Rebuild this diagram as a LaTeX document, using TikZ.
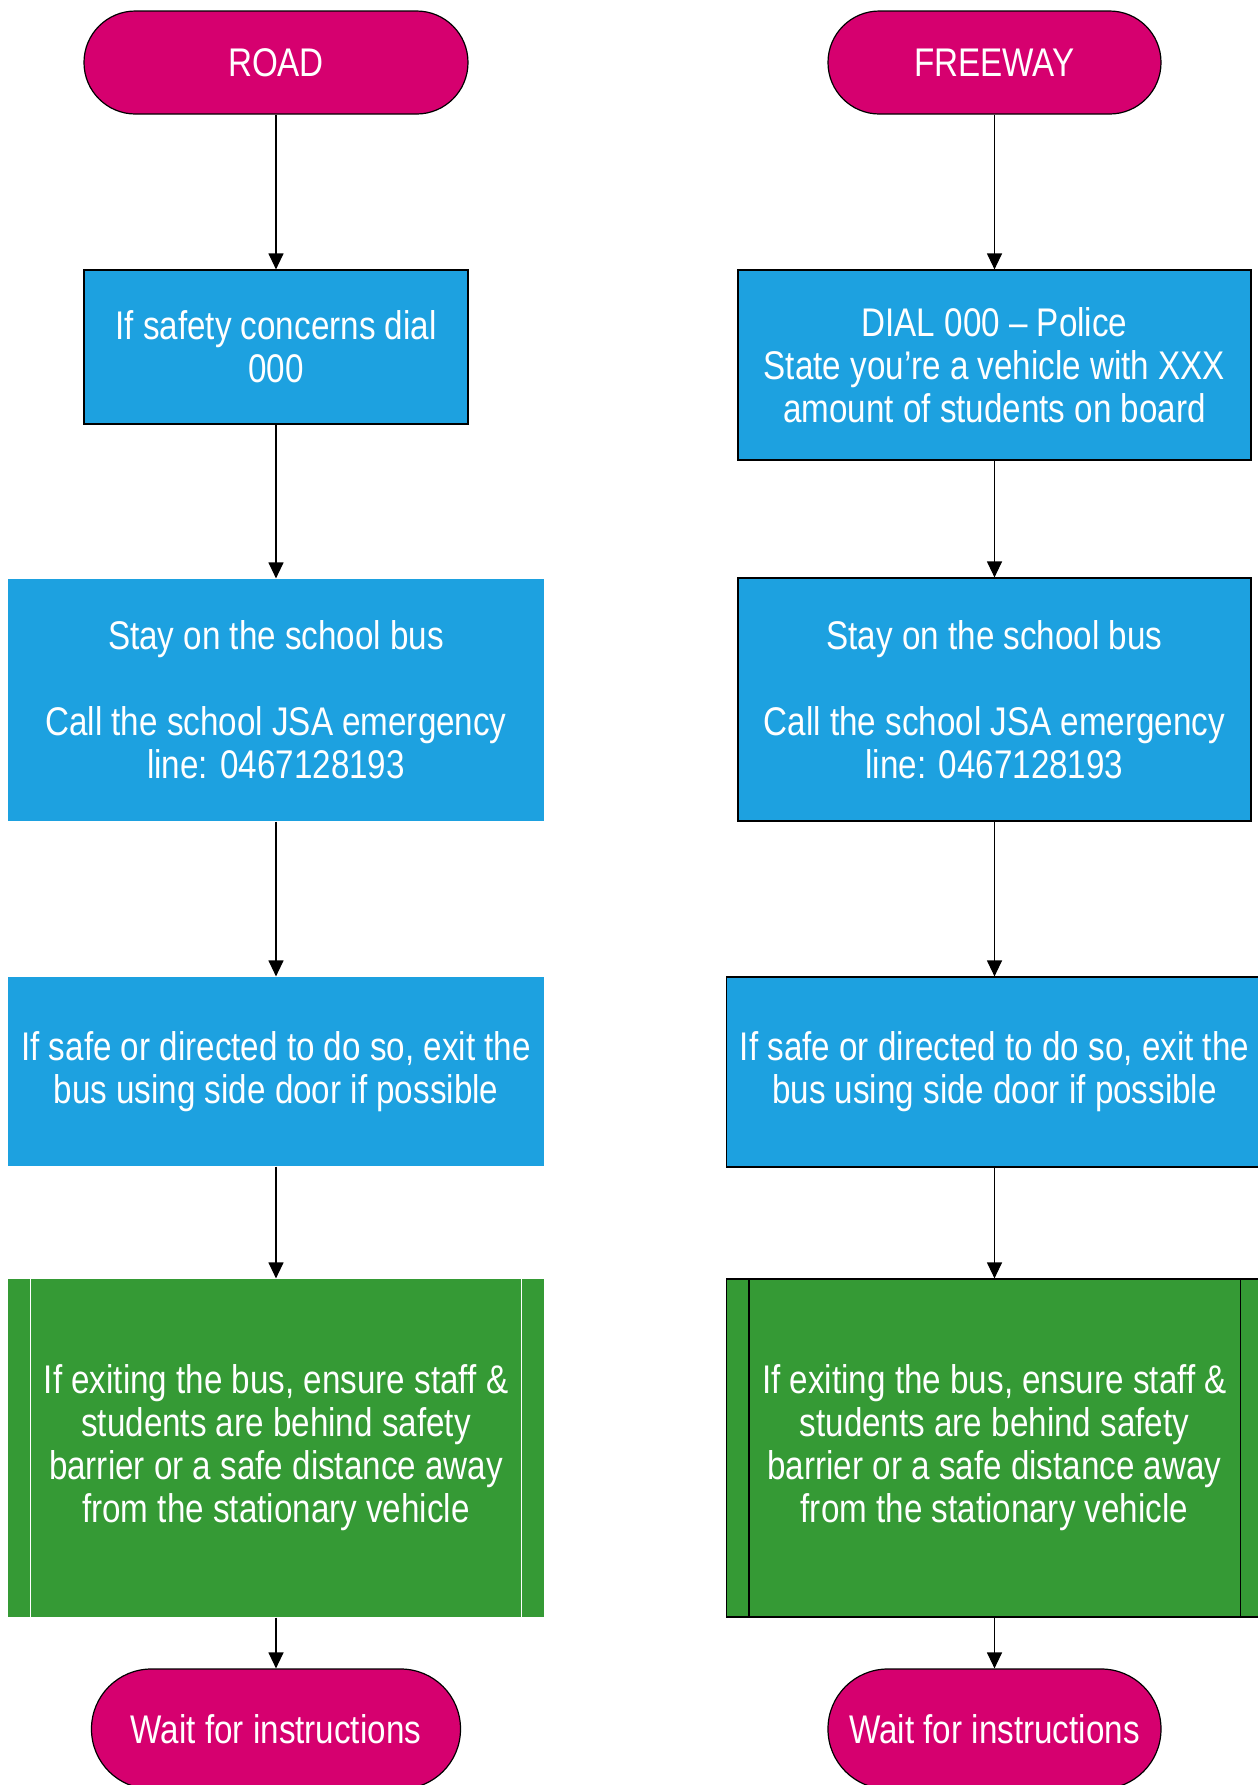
\documentclass[tikz,border=0pt]{standalone}
\usepackage{fontspec}
\setmainfont{Liberation Sans}[FakeStretch=0.83]
\usetikzlibrary{arrows.meta}
\definecolor{termpink}{RGB}{214,0,111}
\definecolor{stepblue}{RGB}{29,161,224}
\definecolor{subgreen}{RGB}{53,154,53}
\begin{document}
\begin{tikzpicture}[x=0.5pt,y=-0.5pt,
  every node/.style={text=white,align=center,inner sep=2pt,font=\fontsize{20}{21.5}\selectfont},
  term/.style={draw=black,fill=termpink,line width=0.6pt,minimum height=51.5pt,rounded corners=25.7pt},
  endterm/.style={term,minimum height=60pt,rounded corners=29.9pt},
  box/.style={fill=stepblue,line width=0.6pt},
  sub/.style={fill=subgreen,line width=0.6pt,minimum width=268pt,minimum height=169pt},
  arr/.style={-{Triangle[length=8pt,width=7.5pt]},line width=0.6pt}]
\useasboundingbox (0,0) rectangle (1258,1785);
% road column
\node[term,minimum width=192pt] (road) at (276,62.5) {ROAD};
\node[box,draw=black,minimum width=192pt,minimum height=77pt] (s1L) at (276,347) {If safety concerns dial\\000};
\node[box,minimum width=268pt,minimum height=121pt] (s2L) at (276,700) {Stay on the school bus\\~\\Call the school JSA emergency\\line: 0467128193};
\node[box,minimum width=268pt,minimum height=94.5pt] (s3L) at (276,1071.5) {If safe or directed to do so, exit the\\bus using side door if possible};
\node[sub] (gL) at (276,1448) {If exiting the bus, ensure staff \&\\students are behind safety\\barrier or a safe distance away\\from the stationary vehicle};
\draw[white,line width=0.6pt] ([xshift=11.5pt]gL.north west) -- ([xshift=11.5pt]gL.south west)
  ([xshift=-11.5pt]gL.north east) -- ([xshift=-11.5pt]gL.south east);
\node[endterm,minimum width=184.5pt] (wL) at (276,1729) {Wait for instructions};
% freeway column
\node[term,minimum width=166.5pt] (fwy) at (994.5,62.5) {FREEWAY};
\node[box,draw=black,minimum width=256.5pt,minimum height=95pt] (s1R) at (994.5,365) {DIAL 000 -- Police\\State you’re a vehicle with XXX\\amount of students on board};
\node[box,draw=black,minimum width=256.5pt,minimum height=121.5pt] (s2R) at (994.5,699.5) {Stay on the school bus\\~\\Call the school JSA emergency\\line: 0467128193};
\node[box,draw=black,minimum width=268pt,minimum height=95pt] (s3R) at (994.5,1072) {If safe or directed to do so, exit the\\bus using side door if possible};
\node[sub,draw=black] (gR) at (994.5,1448) {If exiting the bus, ensure staff \&\\students are behind safety\\barrier or a safe distance away\\from the stationary vehicle};
\draw[black,line width=0.6pt] ([xshift=11.5pt]gR.north west) -- ([xshift=11.5pt]gR.south west)
  ([xshift=-11.5pt]gR.north east) -- ([xshift=-11.5pt]gR.south east);
\node[endterm,minimum width=166.5pt] (wR) at (994.5,1729) {Wait for instructions};
% connectors
\draw[arr] (road) -- (s1L);
\draw[arr] (s1L) -- (s2L);
\draw[arr] (s2L) -- (s3L);
\draw[arr] (s3L) -- (gL);
\draw[arr] (gL) -- (wL);
\draw[arr] (fwy) -- (s1R);
\draw[arr] (s1R) -- (s2R);
\draw[arr] (s2R) -- (s3R);
\draw[arr] (s3R) -- (gR);
\draw[arr] (gR) -- (wR);
\end{tikzpicture}
\end{document}
